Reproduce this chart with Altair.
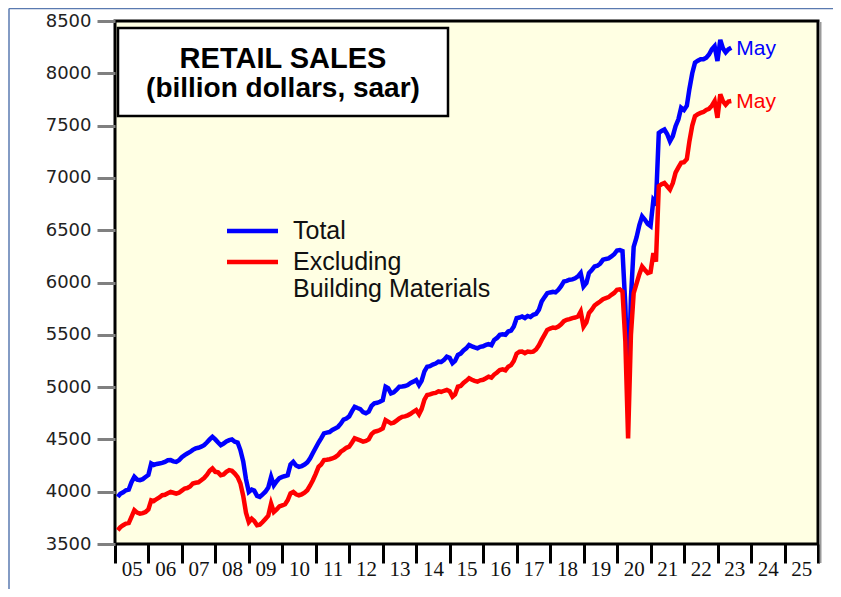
import altair as alt
import pandas as pd

# ---- data (billion dollars, saar), monthly Jan 2005 .. May 2023 ----
total = [
    # 2005
    3950, 3980, 3995, 4014, 4020, 4090, 4142, 4115, 4110, 4120, 4140, 4160,
    # 2006
    4270, 4255, 4265, 4270, 4275, 4285, 4300, 4302, 4290, 4285, 4300, 4330,
    # 2007
    4350, 4365, 4380, 4400, 4414, 4420, 4430, 4445, 4470, 4500, 4525, 4500,
    # 2008
    4470, 4445, 4460, 4480, 4493, 4500, 4478, 4470, 4398, 4290, 4120, 3998,
    # 2009
    4020, 4010, 3960, 3950, 3975, 4000, 4040, 4142, 4062, 4100, 4130, 4142,
    # 2010
    4150, 4158, 4260, 4286, 4250, 4238, 4245, 4260, 4280, 4320, 4370, 4420,
    # 2011
    4470, 4510, 4557, 4565, 4570, 4590, 4605, 4620, 4650, 4690, 4700, 4720,
    # 2012
    4770, 4812, 4800, 4790, 4760, 4750, 4765, 4820, 4845, 4850, 4860, 4875,
    # 2013
    5004, 4990, 4940, 4950, 4975, 5004, 5005, 5010, 5020, 5040, 5052, 5068,
    # 2014
    5020, 5060, 5150, 5195, 5200, 5215, 5225, 5243, 5240, 5260, 5291, 5280,
    # 2015
    5228, 5250, 5307, 5320, 5350, 5370, 5403, 5390, 5380, 5371, 5385, 5390,
    # 2016
    5403, 5410, 5400, 5451, 5470, 5499, 5505, 5500, 5531, 5540, 5580, 5659,
    # 2017
    5665, 5675, 5660, 5680, 5670, 5691, 5700, 5740, 5818, 5860, 5898, 5905,
    # 2018
    5910, 5905, 5930, 5965, 6010, 6015, 6026, 6030, 6040, 6058, 6090, 5962,
    # 2019
    5995, 6090, 6120, 6153, 6160, 6180, 6217, 6225, 6230, 6249, 6270, 6306,
    # 2020
    6310, 6300, 5780, 4900, 5850, 6340, 6430, 6550, 6632, 6600, 6560, 6540,
    # 2021
    6790, 6760, 7431, 7450, 7463, 7420, 7351, 7400, 7495, 7560, 7671, 7650,
    # 2022
    7690, 7850, 8000, 8102, 8120, 8134, 8135, 8150, 8180, 8230, 8260, 8117,
    # 2023
    8320, 8240, 8200, 8230, 8245,
]

excl_bm = [
    # 2005
    3631, 3660, 3680, 3695, 3700, 3760, 3823, 3800, 3790, 3795, 3806, 3830,
    # 2006
    3918, 3910, 3930, 3945, 3966, 3970, 3985, 3998, 3990, 3982, 3990, 4010,
    # 2007
    4030, 4035, 4050, 4078, 4085, 4090, 4110, 4130, 4160, 4200, 4222, 4190,
    # 2008
    4185, 4158, 4165, 4190, 4206, 4200, 4174, 4140, 4080, 3960, 3800, 3710,
    # 2009
    3742, 3720, 3679, 3685, 3710, 3740, 3770, 3886, 3806, 3830, 3860, 3870,
    # 2010
    3880, 3918, 3985, 3998, 3975, 3966, 3975, 3990, 4014, 4060, 4110, 4170,
    # 2011
    4238, 4260, 4302, 4305, 4310, 4318, 4330, 4350, 4382, 4400, 4420, 4430,
    # 2012
    4470, 4510, 4500, 4490, 4478, 4485, 4500, 4550, 4573, 4580, 4590, 4605,
    # 2013
    4685, 4670, 4653, 4660, 4680, 4700, 4716, 4720, 4730, 4745, 4764, 4781,
    # 2014
    4740, 4790, 4880, 4925, 4930, 4940, 4945, 4960, 4955, 4965, 4973, 4960,
    # 2015
    4909, 4930, 5004, 5010, 5040, 5060, 5084, 5070, 5060, 5052, 5065, 5070,
    # 2016
    5085, 5100, 5090, 5120, 5140, 5164, 5170, 5160, 5195, 5210, 5250, 5320,
    # 2017
    5339, 5340, 5325, 5340, 5335, 5339, 5360, 5400, 5451, 5500, 5547, 5560,
    # 2018
    5570, 5565, 5579, 5600, 5630, 5643, 5650, 5660, 5665, 5675, 5722, 5579,
    # 2019
    5620, 5707, 5740, 5780, 5800, 5818, 5840, 5850, 5860, 5882, 5900, 5930,
    # 2020
    5935, 5914, 5440, 4510, 5500, 5898, 5990, 6080, 6153, 6120, 6090, 6100,
    # 2021
    6281, 6200, 6920, 6940, 6952, 6920, 6888, 6950, 7050, 7100, 7144, 7150,
    # 2022
    7180, 7350, 7500, 7590, 7610, 7622, 7630, 7650, 7660, 7690, 7734, 7575,
    # 2023
    7800, 7735, 7700, 7730, 7735,
]

y_ticks = [3500, 4000, 4500, 5000, 5500, 6000, 6500, 7000, 7500, 8000, 8500]
x_years = list(range(2005, 2027))
last_label = "May"

dates = pd.date_range("2005-01-31", periods=len(total), freq="ME")
df = pd.DataFrame({"date": dates, "total": total, "excl": excl_bm})
last = df.tail(1)

BLUE = "#0000FF"
RED = "#FF0000"

x_axis = alt.Axis(
    values=[alt.DateTime(year=y, month=1, date=1) for y in x_years],
    labelExpr="year(datum.value) >= 2026 ? '' : timeFormat(datum.value, '%y')",
    labelOffset=16.7,
    labelFlush=False,
    labelOverlap=False,
    labelBound=False,
    labelSeparation=0,
    labelFont="Liberation Serif",
    labelFontSize=21,
    labelColor="#111111",
    labelPadding=-5,
    tickColor="black",
    tickWidth=3,
    tickSize=19,
    domain=False,
    grid=False,
)
x_scale = alt.Scale(domain=[alt.DateTime(year=2005, month=1, date=1),
                            alt.DateTime(year=2026, month=1, date=1)])


def xenc():
    return alt.X("date:T", title=None, scale=x_scale, axis=x_axis)


y_scale = alt.Scale(domain=[3500, 8500], zero=False, nice=False)
y_axis = alt.Axis(
    values=y_ticks,
    format="d",
    labelFont="DejaVu Sans",
    labelFontSize=18,
    labelColor="#222222",
    labelPadding=6,
    tickColor="#808080",
    tickWidth=3,
    tickSize=18,
    domain=False,
    grid=False,
    labelFlush=False,
)


def yenc(field):
    return alt.Y(field, title=None, scale=y_scale, axis=y_axis)


blue_line = alt.Chart(df).mark_line(color=BLUE, strokeWidth=4.5).encode(
    x=xenc(), y=yenc("total:Q")
)
red_line = alt.Chart(df).mark_line(color=RED, strokeWidth=4.5).encode(
    x=xenc(), y=yenc("excl:Q")
)

may_blue = alt.Chart(last).mark_text(
    text=last_label, align="left", baseline="middle", dx=5, dy=1,
    font="Liberation Sans", fontSize=21, color=BLUE
).encode(x=xenc(), y=yenc("total:Q"))
may_red = alt.Chart(last).mark_text(
    text=last_label, align="left", baseline="middle", dx=5, dy=1,
    font="Liberation Sans", fontSize=21, color=RED
).encode(x=xenc(), y=yenc("excl:Q"))

one = alt.Data(values=[{}])

frame_shadow = alt.Chart(one).mark_rule(color="#9a9a9a", strokeWidth=2).encode(
    x=alt.value(705.5), y=alt.value(1), y2=alt.value(542)
)

title_box = alt.Chart(one).mark_rect(fill="white", stroke="black", strokeWidth=2.5).encode(
    x=alt.value(3), x2=alt.value(333), y=alt.value(7), y2=alt.value(95)
)
title1 = alt.Chart(one).mark_text(
    font="Liberation Sans", fontSize=29, fontWeight="bold", color="black",
    align="center", baseline="middle"
).encode(x=alt.value(168), y=alt.value(38), text=alt.value("RETAIL SALES"))
title2 = alt.Chart(one).mark_text(
    font="Liberation Sans", fontSize=28, fontWeight="bold", color="black",
    align="center", baseline="middle"
).encode(x=alt.value(168), y=alt.value(68), text=alt.value("(billion dollars, saar)"))

leg_blue = alt.Chart(one).mark_rule(color=BLUE, strokeWidth=4.5).encode(
    x=alt.value(112), x2=alt.value(163), y=alt.value(210)
)
leg_red = alt.Chart(one).mark_rule(color=RED, strokeWidth=4.5).encode(
    x=alt.value(112), x2=alt.value(163), y=alt.value(241)
)
leg_t1 = alt.Chart(one).mark_text(
    font="Liberation Sans", fontSize=25, color="#111111", align="left", baseline="middle"
).encode(x=alt.value(178), y=alt.value(210), text=alt.value("Total"))
leg_t2 = alt.Chart(one).mark_text(
    font="Liberation Sans", fontSize=25, color="#111111", align="left", baseline="middle"
).encode(x=alt.value(178), y=alt.value(241), text=alt.value("Excluding"))
leg_t3 = alt.Chart(one).mark_text(
    font="Liberation Sans", fontSize=25, color="#111111", align="left", baseline="middle"
).encode(x=alt.value(178), y=alt.value(268), text=alt.value("Building Materials"))

border_top = alt.Chart(one).mark_rule(color="#5a7ab0", strokeWidth=1.5).encode(
    x=alt.value(-106), x2=alt.value(730), y=alt.value(-12.5)
)
border_left = alt.Chart(one).mark_rule(color="#5a7ab0", strokeWidth=1.5).encode(
    x=alt.value(-106), y=alt.value(-12.5), y2=alt.value(580)
)

chart = alt.layer(
    frame_shadow,
    blue_line, red_line, may_blue, may_red,
    title_box, title1, title2,
    leg_blue, leg_red, leg_t1, leg_t2, leg_t3,
    border_top, border_left,
).properties(
    width=703,
    height=523,
    autosize=alt.AutoSizeParams(type="none"),
    padding={"left": 107, "top": 13, "right": 15, "bottom": 45},
    background="white",
).configure_view(
    fill="#FFFFE3", stroke="black", strokeWidth=3
).configure_axisX(
    labelOverlap=False, labelSeparation=0
)

chart.save("out.html", embed_options={"renderer": "svg", "actions": False})
